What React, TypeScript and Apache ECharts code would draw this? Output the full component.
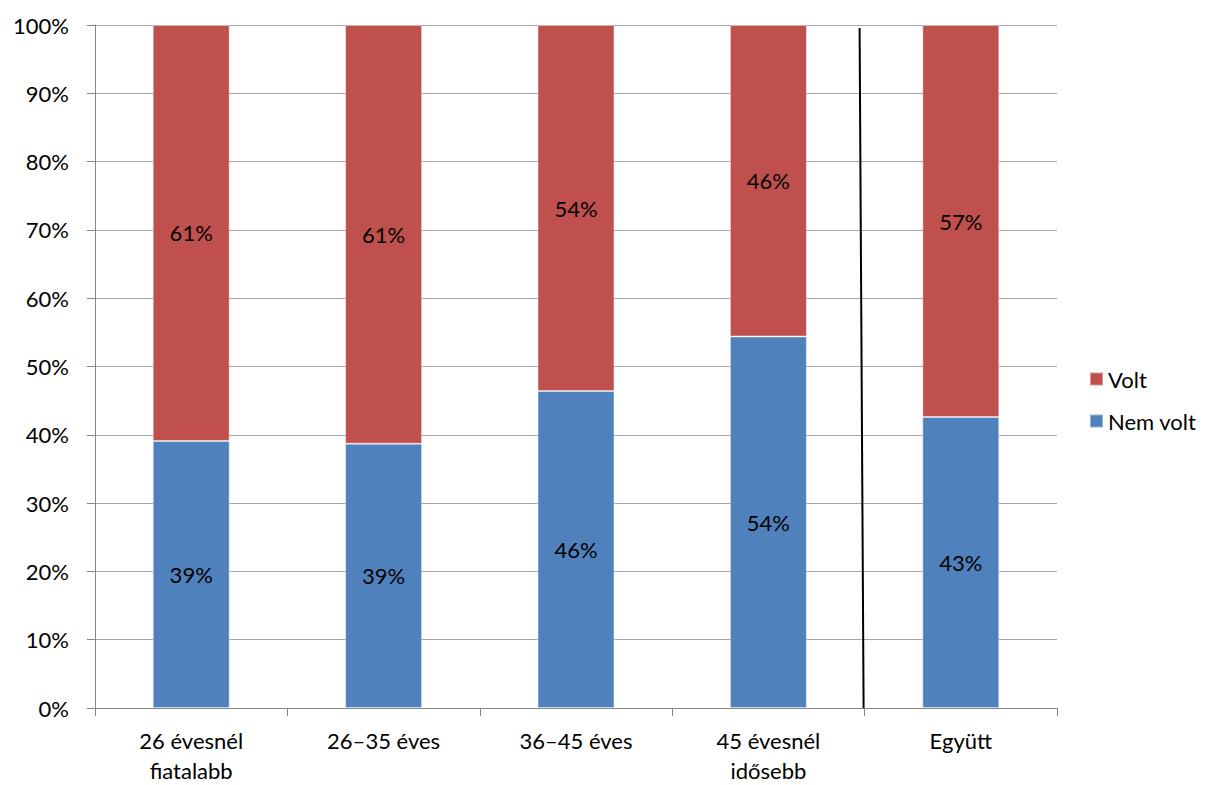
import React, { useEffect, useRef } from "react";
import * as echarts from "echarts";

const categories = ["26 évesnél\nfiatalabb", "26–35 éves", "36–45 éves", "45 évesnél\nidősebb", "Együtt"];
const nemVolt = [39.1, 38.7, 46.4, 54.4, 42.6];
const volt = [60.9, 61.3, 53.6, 45.6, 57.4];
const yTicks = [0, 10, 20, 30, 40, 50, 60, 70, 80, 90, 100];

const FONT = "Lato";
const FS = 22;

export default function App() {
  const ref = useRef<HTMLDivElement>(null);
  useEffect(() => {
    const chart = echarts.init(ref.current!, undefined, { renderer: "svg" });
    const label = {
      show: true,
      position: "inside",
      color: "#000",
      fontFamily: FONT,
      fontSize: FS,
      formatter: (p: any) => Math.round(p.value) + "%",
    };
    chart.setOption({
      animation: false,
      textStyle: { fontFamily: FONT },
      grid: { left: 95, right: 153, top: 25, bottom: 77, containLabel: false },
      legend: {
        orient: "vertical",
        left: 1084,
        top: 363,
        data: ["Volt", "Nem volt"],
        itemWidth: 13,
        itemHeight: 13,
        itemGap: 20,
        icon: "rect",
        textStyle: { fontSize: FS, color: "#000", fontFamily: FONT, padding: [0, 0, 0, 0] },
      },
      xAxis: {
        type: "category",
        data: categories,
        axisLine: { lineStyle: { color: "#868686", width: 1 } },
        axisTick: { show: true, length: 8, lineStyle: { color: "#868686" } },
        axisLabel: { color: "#000", fontSize: FS, fontFamily: FONT, lineHeight: 30, margin: 17, interval: 0 },
      },
      yAxis: {
        type: "value",
        min: 0,
        max: 100,
        interval: 10,
        axisLine: { show: true, lineStyle: { color: "#868686", width: 1 } },
        axisTick: { show: true, length: 8, lineStyle: { color: "#868686" } },
        axisLabel: {
          color: "#000",
          fontSize: FS,
          fontFamily: FONT,
          margin: 26,
          formatter: (v: number) => (yTicks.includes(v) ? v + "%" : ""),
        },
        splitLine: { lineStyle: { color: "#A6A6A6", width: 1 } },
      },
      series: [
        {
          name: "Nem volt",
          type: "bar",
          stack: "s",
          data: nemVolt,
          barWidth: "40%",
          itemStyle: { color: "#4F81BD", borderColor: "rgba(255,255,255,0.4)", borderWidth: 1 },
          label,
        },
        {
          name: "Volt",
          type: "bar",
          stack: "s",
          data: volt,
          barWidth: "40%",
          itemStyle: { color: "#C0504D", borderColor: "rgba(255,255,255,0.4)", borderWidth: 1 },
          label,
        },
      ],
    });
    const p3 = chart.convertToPixel({ xAxisIndex: 0 }, 3) as number;
    const p4 = chart.convertToPixel({ xAxisIndex: 0 }, 4) as number;
    const yTop = chart.convertToPixel({ yAxisIndex: 0 }, 100) as number;
    const yBot = chart.convertToPixel({ yAxisIndex: 0 }, 0) as number;
    const bx = (p3 + p4) / 2;
    chart.setOption({
      graphic: [
        {
          type: "line",
          shape: { x1: bx - 5, y1: yTop + 3, x2: bx - 1, y2: yBot },
          style: { stroke: "#000", lineWidth: 2 },
          z: 100,
        },
      ],
    });
    return () => chart.dispose();
  }, []);
  return (
    <div
      ref={ref}
      style={{ position: "absolute", left: 0, top: 0, width: 1210, height: 785, overflow: "hidden" }}
    />
  );
}
